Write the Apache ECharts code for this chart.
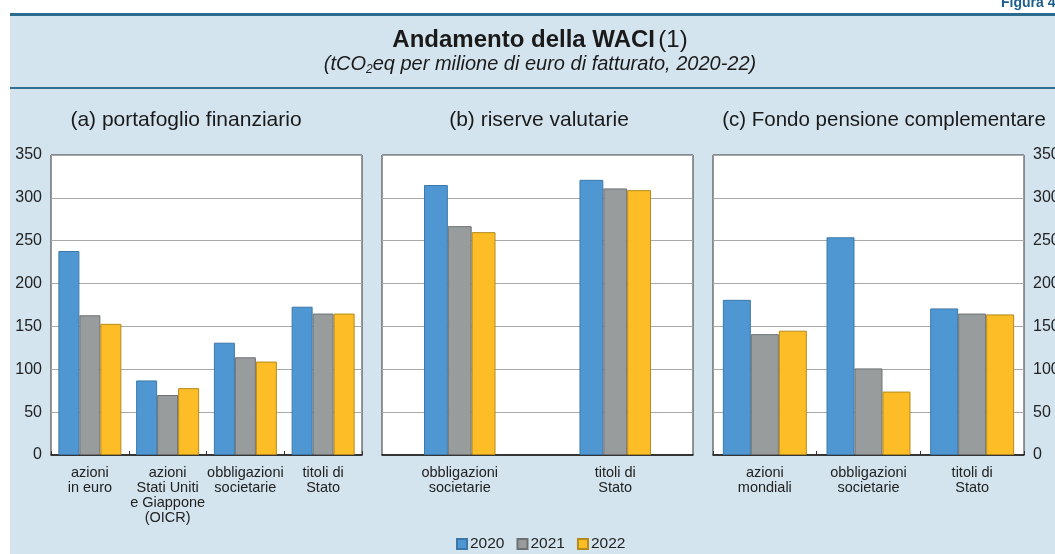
<!DOCTYPE html>
<html>
<head>
<meta charset="utf-8">
<script src="https://cdn.jsdelivr.net/npm/echarts@6/dist/echarts.min.js"></script>
<style>
  html, body { margin: 0; padding: 0; background: #fff; }
  #chart { width: 1055px; height: 554px; }
</style>
</head>
<body>
<div id="chart"></div>
<script>
// dati (tCO2eq per milione di euro di fatturato)
var years = ['2020', '2021', '2022'];
var yTicks = [0, 50, 100, 150, 200, 250, 300, 350];

var catPortafoglio = ['azioni\nin euro', 'azioni\nStati Uniti\ne Giappone\n(OICR)', 'obbligazioni\nsocietarie', 'titoli di\nStato'];
var portafoglio2020 = [238, 87, 131, 173];
var portafoglio2021 = [163, 70, 114, 165];
var portafoglio2022 = [153, 78, 109, 165];

var catRiserve = ['obbligazioni\nsocietarie', 'titoli di\nStato'];
var riserve2020 = [315, 321];
var riserve2021 = [267, 311];
var riserve2022 = [260, 309];

var catFondo = ['azioni\nmondiali', 'obbligazioni\nsocietarie', 'titoli di\nStato'];
var fondo2020 = [181, 254, 171];
var fondo2021 = [141, 101, 165];
var fondo2022 = [145, 74, 164];

var FONT = "'Liberation Sans', Arial, Helvetica, sans-serif";
var colori = ['#4f97d3', '#989c9d', '#fdbd26'];
var bordi = ['#3c78aa', '#6d7172', '#b48a1c'];

var myChart = echarts.init(document.getElementById('chart'));

function xAsse(idx, cats, ticks) {
    return {
        type: 'category',
        gridIndex: idx,
        data: cats,
        axisLine: { lineStyle: { color: '#111', width: 1.5 } },
        axisTick: { show: ticks, inside: true, length: 4, lineStyle: { color: '#333' } },
        axisLabel: {
            interval: 0,
            color: '#222',
            fontFamily: FONT,
            fontSize: 14.5,
            lineHeight: 15,
            margin: 10
        }
    };
}

function yAsse(idx, pos, showLabel) {
    return {
        type: 'value',
        gridIndex: idx,
        position: pos,
        min: yTicks[0],
        max: yTicks[yTicks.length - 1],
        interval: 50,
        axisLine: { show: false },
        axisTick: { show: false },
        axisLabel: { show: showLabel, color: '#222', fontFamily: FONT, fontSize: 16, margin: 9 },
        splitLine: { lineStyle: { color: '#a8a8a8', width: 1 } }
    };
}

function serie(idx, valori, gap) {
    return valori.map(function (v, i) {
        return {
            name: years[i],
            type: 'bar',
            xAxisIndex: idx,
            yAxisIndex: idx,
            barGap: '0%',
            barCategoryGap: gap,
            itemStyle: { color: colori[i], borderColor: bordi[i], borderWidth: 1 },
            data: v
        };
    });
}

var griglia = {
    show: true, top: 155, height: 300, width: 311,
    outerBoundsMode: 'none', containLabel: false,
    backgroundColor: '#ffffff', borderColor: '#333', borderWidth: 1
};

option = {
    animation: false,
    backgroundColor: '#ffffff',
    textStyle: { fontFamily: FONT },
    graphic: [
        { type: 'rect', z: -10, shape: { x: 10, y: 14, width: 1045, height: 540 }, style: { fill: '#d3e4ee' } },
        { type: 'rect', z: -9, shape: { x: 10, y: 13, width: 1045, height: 3 }, style: { fill: '#2c6b8d' } },
        { type: 'rect', z: -9, shape: { x: 10, y: 87, width: 1045, height: 2 }, style: { fill: '#2f6f91' } },
        { type: 'text', x: 1001, y: -4, style: { text: 'Figura 4.', fill: '#1d5f8c', font: 'bold 14px ' + FONT } },
        {
            type: 'text', x: 540, y: 40,
            style: {
                text: '{b|Andamento della WACI} {n|(1)}',
                align: 'center', verticalAlign: 'middle',
                rich: {
                    b: { fontFamily: FONT, fontWeight: 'bold', fontSize: 24, fill: '#1a1a1a' },
                    n: { fontFamily: FONT, fontSize: 24, fill: '#1a1a1a' }
                }
            }
        },
        {
            type: 'text', x: 540, y: 64,
            style: {
                text: '{i|(tCO}{s|2}{i|eq per milione di euro di fatturato, 2020-22)}',
                align: 'center', verticalAlign: 'middle',
                rich: {
                    i: { fontFamily: FONT, fontStyle: 'italic', fontSize: 20, lineHeight: 24, fill: '#1a1a1a' },
                    s: { fontFamily: FONT, fontStyle: 'italic', fontSize: 12, lineHeight: 24, verticalAlign: 'bottom', fill: '#1a1a1a' }
                }
            }
        },
        { type: 'text', x: 186, y: 120, style: { text: '(a) portafoglio finanziario', align: 'center', verticalAlign: 'middle', font: '21px ' + FONT, fill: '#1a1a1a' } },
        { type: 'text', x: 539, y: 120, style: { text: '(b) riserve valutarie', align: 'center', verticalAlign: 'middle', font: '21px ' + FONT, fill: '#1a1a1a' } },
        { type: 'text', x: 884, y: 120, style: { text: '(c) Fondo pensione complementare', align: 'center', verticalAlign: 'middle', font: '20.5px ' + FONT, fill: '#1a1a1a' } }
    ],
    legend: {
        data: years,
        left: 451,
        top: 531,
        icon: 'rect',
        itemWidth: 10,
        itemHeight: 10,
        itemGap: 12,
        textStyle: { fontFamily: FONT, fontSize: 15.5, color: '#222', padding: [0, 0, 0, -2] }
    },
    grid: [
        Object.assign({}, griglia, { left: 51 }),
        Object.assign({}, griglia, { left: 382 }),
        Object.assign({}, griglia, { left: 713 })
    ],
    xAxis: [
        xAsse(0, catPortafoglio, true),
        xAsse(1, catRiserve, false),
        xAsse(2, catFondo, true)
    ],
    yAxis: [
        yAsse(0, 'left', true),
        yAsse(1, 'left', false),
        yAsse(2, 'right', true)
    ],
    series: [].concat(
        serie(0, [portafoglio2020, portafoglio2021, portafoglio2022], '19%'),
        serie(1, [riserve2020, riserve2021, riserve2022], '54%'),
        serie(2, [fondo2020, fondo2021, fondo2022], '19%')
    )
};

myChart.setOption(option);
</script>
</body>
</html>
